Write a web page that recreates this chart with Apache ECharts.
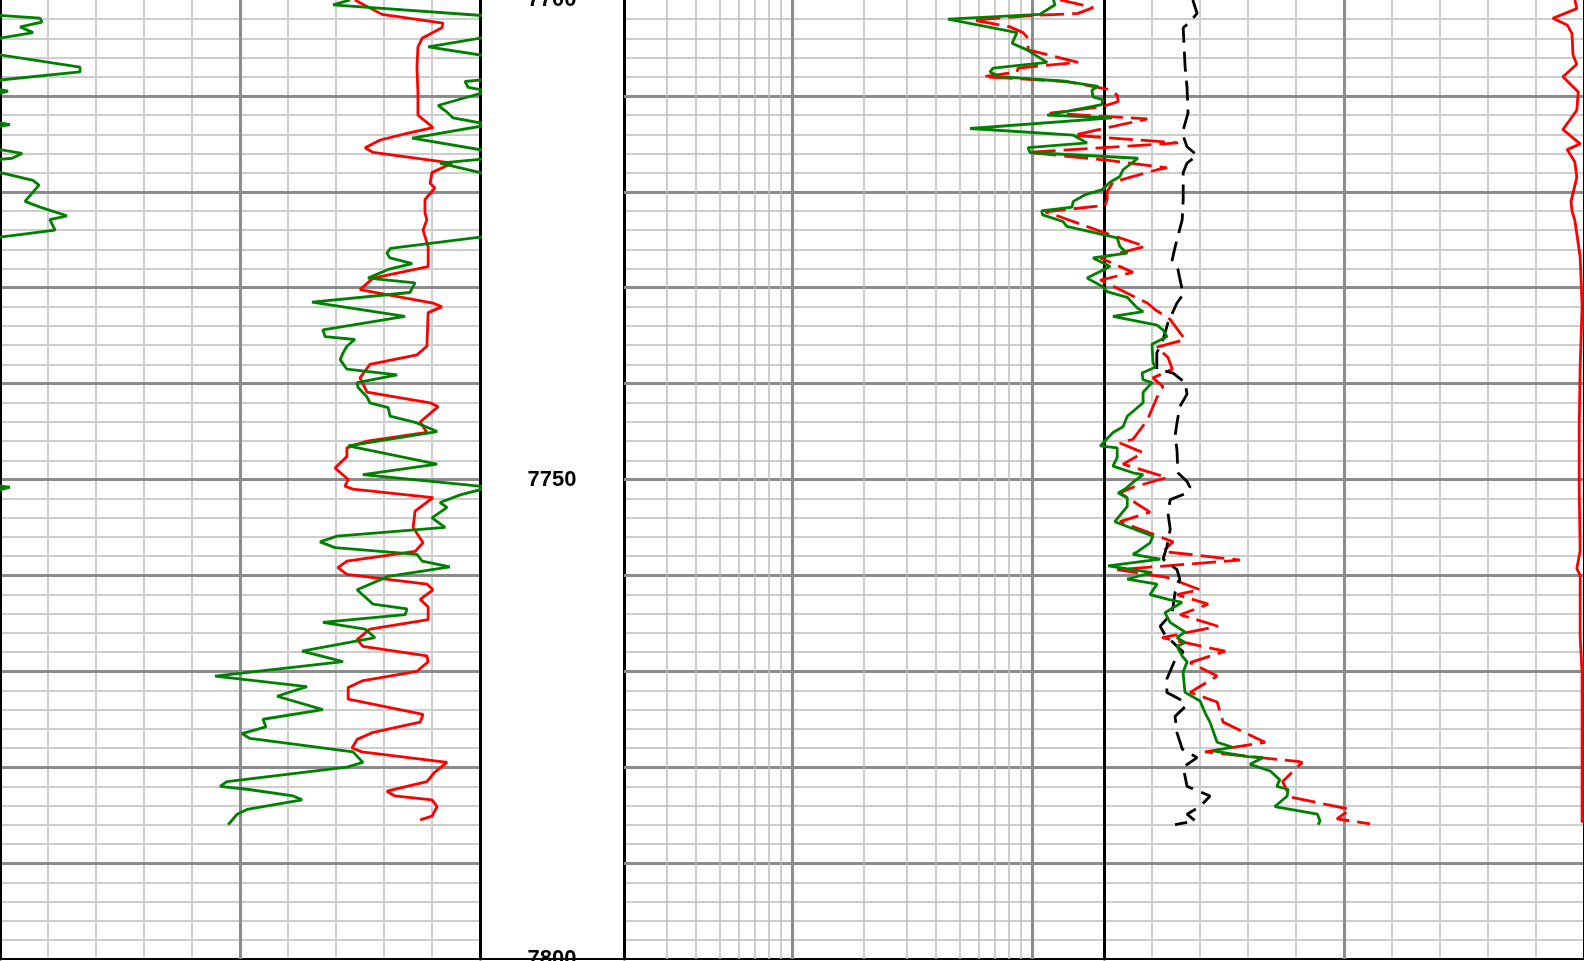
<!DOCTYPE html>
<html><head><meta charset="utf-8">
<script src="https://cdn.jsdelivr.net/npm/echarts@6/dist/echarts.min.js"></script>
<style>html,body{margin:0;padding:0;background:#fff;overflow:hidden}#c{width:1584px;height:961px}</style>
</head><body><div id="c"></div>
<script>
// ---- depth range ----
const depthTop = 7700, depthBottom = 7800;

// ---- Track 1: gamma ray (green, API 0-150, wraps past 150) ----
const grDepth = [
 7700.0,7700.5,7701.9,7702.3,7702.8,7703.4,7704.9,7707.0,7707.5,7708.5,
 7709.1,7709.5,7711.0,7711.7,7712.3,7713.0,7714.4,7716.0,7716.5,7717.0,
 7718.8,7719.3,7721.0,7721.6,7722.5,7722.9,7724.0,7725.9,7726.4,7726.9,
 7727.5,7728.1,7729.0,7729.5,7730.5,7731.5,7733.0,7734.4,7735.1,7735.4,
 7736.1,7736.8,7737.5,7738.5,7739.1,7739.9,7740.4,7741.4,7742.0,7742.5,
 7743.4,7744.1,7745.0,7746.5,7748.4,7749.5,7750.8,7751.6,7752.4,7752.9,
 7754.0,7755.0,7755.9,7756.5,7757.1,7757.8,7758.5,7759.1,7760.1,7761.5,
 7763.0,7763.5,7764.1,7764.9,7765.6,7766.5,7767.9,7769.0,7770.5,7771.6,
 7772.6,7774.0,7775.0,7775.8,7776.5,7777.0,7778.4,7779.5,7780.0,7781.5,
 7782.0,7782.3,7783.0,7783.4,7784.4,7784.9,7786.0];
const grValue = [
 109.4,104.1,162.5,163.1,156.3,160.3,133.8,175.0,175.0,145.3,
 146.3,152.5,136.9,139.7,141.6,153.1,128.8,156.9,153.8,137.5,
 160.3,162.2,157.8,162.5,170.9,165.6,167.2,122.0,120.9,121.9,
 128.8,121.3,115.0,129.7,128.1,97.5,126.6,100.9,101.6,110.9,
 108.4,107.2,106.3,108.4,124.1,111.6,111.9,114.7,115.6,121.3,
 121.9,130.3,136.6,108.8,136.6,113.4,153.1,143.8,137.5,139.7,
 135.0,139.1,105.3,100.0,104.7,130.3,131.9,140.6,121.3,111.6,
 116.6,127.2,126.6,100.9,114.1,117.2,94.4,107.2,67.2,95.9,
 86.6,100.9,82.2,83.1,75.6,78.1,110.3,113.4,108.4,70.9,
 68.8,77.2,91.6,94.4,77.2,74.1,71.3];

// ---- Track 1: red curve ----
const t1RedDepth = [
 7700.0,7701.5,7702.4,7702.9,7704.0,7704.9,7707.0,7709.7,7712.0,7713.3,
 7713.9,7714.6,7715.4,7715.9,7717.0,7718.0,7719.1,7719.6,7720.8,7722.2,
 7722.9,7724.0,7725.7,7727.8,7729.0,7730.2,7731.6,7732.0,7732.6,7736.1,
 7737.0,7738.0,7739.4,7740.9,7742.0,7742.4,7744.0,7745.1,7746.0,7746.7,
 7747.6,7748.8,7750.0,7750.7,7751.0,7751.9,7753.3,7755.0,7756.6,7757.5,
 7758.5,7759.2,7759.9,7760.9,7761.5,7762.5,7763.3,7764.6,7765.6,7766.7,
 7767.4,7768.4,7769.0,7770.0,7771.0,7771.7,7772.9,7774.5,7775.3,7776.4,
 7777.1,7778.0,7778.4,7779.5,7780.5,7781.5,7782.5,7783.0,7783.4,7784.1,
 7785.1,7785.5];
const t1RedValue = [
 110.9,119.4,138.4,138.1,131.9,130.6,130.3,130.6,130.6,135.3,
 127.2,118.8,114.1,116.6,141.3,135.0,134.4,135.9,132.8,132.8,
 133.4,132.2,133.8,133.8,116.6,112.5,135.3,138.1,133.8,133.4,
 130.3,115.6,112.5,114.7,134.4,136.9,131.3,133.4,114.7,108.4,
 108.4,104.7,108.8,107.8,110.3,135.3,129.7,129.1,132.2,129.7,
 108.4,105.6,108.4,133.4,135.3,131.3,133.8,133.8,115.6,111.6,
 113.4,133.4,133.8,130.3,113.1,108.8,108.8,132.2,131.3,116.3,
 111.6,110.0,113.1,139.7,135.9,133.4,120.9,123.4,135.0,136.6,
 135.0,131.3];

// ---- Resistivity track (log 0.2 - 2000): green solid ----
const resGreenDepth = [
 7700.0,7700.5,7701.5,7702.0,7703.4,7704.5,7705.2,7706.5,7707.1,7707.5,
 7708.0,7708.5,7709.0,7709.4,7710.1,7710.4,7710.9,7712.0,7712.3,7713.4,
 7714.1,7714.9,7715.4,7715.9,7716.5,7717.7,7718.4,7719.0,7719.8,7720.3,
 7721.0,7721.6,7722.0,7722.4,7723.1,7723.6,7724.8,7725.7,7726.4,7726.9,
 7727.8,7729.0,7729.9,7730.4,7731.0,7732.1,7732.5,7733.0,7733.9,7734.4,
 7735.1,7735.9,7737.8,7738.3,7738.9,7739.6,7739.9,7740.9,7742.0,7743.4,
 7744.5,7745.1,7746.5,7746.7,7747.7,7748.6,7749.3,7749.5,7750.3,7751.0,
 7751.4,7751.9,7752.8,7754.4,7754.9,7755.9,7756.6,7757.5,7757.8,7758.3,
 7759.0,7759.7,7760.4,7760.9,7762.0,7762.5,7762.8,7763.9,7764.9,7765.9,
 7766.5,7767.0,7767.4,7768.4,7769.0,7770.1,7772.2,7773.1,7774.3,7775.3,
 7777.4,7777.9,7778.3,7778.9,7779.0,7779.7,7780.4,7781.3,7782.0,7782.3,
 7783.0,7784.1,7784.9,7785.6,7786.0];
const resGreenValue = [
 12.3,12.5,10.8,4.48,8.68,8.28,9.55,11.6,6.90,6.70,
 7.38,14.0,18.9,17.8,18.0,19.8,19.6,11.6,21.6,5.53,
 14.9,17.0,9.65,9.84,27.7,24.0,23.3,21.2,19.6,16.7,
 14.9,14.7,11.0,11.1,13.5,14.0,22.7,23.3,25.0,18.0,
 21.2,17.0,19.8,20.6,25.0,27.5,29.1,21.8,33.3,35.2,
 36.6,31.7,32.0,32.7,28.8,29.1,31.7,29.1,29.1,25.0,
 24.0,21.8,19.3,22.7,22.7,21.8,26.4,29.1,26.4,24.5,
 22.9,25.0,25.0,22.2,25.0,32.0,31.1,27.7,26.4,34.3,
 20.8,31.7,25.0,33.3,31.1,37.0,42.3,35.9,37.7,43.5,
 40.3,43.5,40.3,42.3,44.4,42.7,43.5,50.3,52.7,55.3,
 59.2,68.4,57.0,79.6,92.0,81.2,98.5,108,105,117,
 116,103,155,159,156];

// ---- Resistivity track: red dashed ----
const resRedDepth = [
 7700.0,7700.5,7700.8,7701.4,7701.6,7702.1,7702.4,7702.8,7703.4,7704.0,
 7705.2,7706.5,7707.1,7707.5,7708.0,7708.5,7709.3,7709.9,7710.6,7711.1,
 7711.8,7712.4,7714.1,7714.9,7715.9,7716.7,7717.5,7717.7,7719.0,7720.0,
 7720.8,7721.4,7722.1,7722.6,7724.0,7725.7,7726.9,7728.4,7729.2,7731.6,
 7732.3,7733.3,7735.4,7736.2,7737.3,7738.5,7739.4,7740.3,7741.4,7743.8,
 7745.8,7746.2,7747.2,7748.4,7749.8,7750.8,7751.4,7753.4,7754.4,7756.5,
 7757.5,7758.4,7759.4,7760.2,7761.5,7762.0,7763.0,7764.1,7765.3,7766.5,
 7767.9,7769.1,7770.5,7772.2,7773.2,7775.3,7777.4,7778.4,7779.4,7779.5,
 7781.5,7783.1,7784.4,7785.4,7785.9];
const resRedValue = [
 13.1,16.2,18.0,15.6,10.3,5.64,6.70,8.11,9.20,9.65,
 9.65,15.6,8.77,8.68,6.27,14.0,20.6,22.7,22.9,19.8,
 11.9,30.3,14.9,40.7,9.65,20.6,36.6,33.3,21.8,20.6,
 20.6,20.2,11.4,13.1,18.7,29.7,19.3,26.4,19.3,30.3,
 32.7,37.7,43.5,33.3,37.0,38.5,32.0,35.2,33.3,30.3,
 26.4,23.3,29.1,24.0,36.6,26.4,23.3,31.1,23.3,38.8,
 35.2,73.8,22.7,36.6,50.3,40.3,54.3,41.5,59.7,34.9,
 63.9,45.7,59.2,45.7,59.2,62.7,93.8,52.7,128,134,
 111,119,212,187,257];

// ---- Linear track (0-100): black dashed ----
const linBlackDepth = [
 7700.0,7701.4,7702.3,7702.9,7707.0,7709.1,7711.8,7713.9,7715.3,7716.2,
 7717.0,7718.0,7720.8,7722.9,7725.8,7727.1,7728.1,7730.7,7731.6,7733.7,
 7735.4,7736.8,7738.5,7738.9,7739.9,7741.1,7742.4,7744.1,7745.5,7746.9,
 7749.3,7750.2,7750.8,7751.4,7752.1,7753.4,7755.2,7757.0,7758.3,7759.4,
 7760.4,7761.8,7763.9,7765.3,7766.2,7768.0,7768.8,7770.8,7772.2,7773.1,
 7773.7,7774.7,7776.4,7778.1,7779.0,7780.0,7782.0,7783.0,7784.1,7784.9,
 7785.6,7786.0];
const linBlackValue = [
 18.5,19.4,17.9,16.5,16.9,17.3,17.5,16.3,17.3,19.4,
 17.3,16.5,16.5,16.3,14.8,14.2,15.4,16.5,15.2,13.3,
 12.3,11.0,11.0,14.4,16.9,17.3,15.8,15.2,14.8,15.2,
 15.4,17.3,17.9,17.3,13.8,13.3,13.8,13.1,12.3,15.2,
 15.8,14.8,14.2,11.7,12.7,16.5,14.8,13.1,13.1,16.5,
 16.9,14.8,15.2,16.3,19.4,16.5,17.3,22.1,20.0,17.3,
 19.0,14.8];

// ---- Linear track: red solid near right edge ----
const linRedDepth = [
 7700.0,7700.9,7701.9,7702.6,7703.5,7705.7,7706.7,7708.0,7709.6,7711.5,
 7713.5,7715.0,7715.6,7716.9,7718.5,7721.0,7722.0,7723.0,7726.8,7731.9,
 7738.3,7744.7,7751.0,7757.4,7759.3,7760.0,7766.4,7770.2,7785.8];
const linRedValue = [
 98.1,98.5,93.5,96.5,97.5,97.7,98.5,95.6,98.8,98.5,
 95.6,99.2,96.5,98.1,98.5,97.3,97.5,98.1,99.2,99.6,
 99.2,99.0,99.0,99.2,98.5,99.2,99.2,99.6,99.6];

// ---- grid / tick values ----
const grScale = [0, 150];
const logScale = [0.2, 2000];
const linScale = [0, 100];
const logMinorLines = [0.3,0.4,0.5,0.6,0.7,0.8,0.9,2,3,4,5,6,7,8,9];
const logMajorLines = [1, 10];

const pairs = (d, v) => d.map((y, i) => [v[i], y]);
// backup (wrap-around) presentation of GR readings above full scale
const grWrapped = grValue.map(v => v - grScale[1]);

const C_MINOR_V = '#cfcfcf', C_MINOR_H = '#bcbcbc', C_MAJOR = '#8c8c8c';
const W = 480, DW = 144, H = 959, LW = 2.8;

function yAx(grid, pos, extra) {
  return Object.assign({
    type: 'value', gridIndex: grid, position: pos, inverse: true,
    min: depthTop, max: depthBottom, interval: 2,
    axisLine: {show: false}, axisTick: {show: false}, axisLabel: {show: false},
    splitLine: {show: false}
  }, extra || {});
}
function xAx(grid, pos, extra) {
  return Object.assign({
    type: 'value', gridIndex: grid, position: pos,
    axisLine: {show: false}, axisTick: {show: false}, axisLabel: {show: false},
    splitLine: {show: false}
  }, extra || {});
}
const bottomLine = {show: true, onZero: false, lineStyle: {color: '#000', width: 2}};
const minorH = {show: true, showMinLine: false, showMaxLine: false, lineStyle: {color: C_MINOR_H, width: 1.5}};
const majorH = {show: true, showMinLine: false, showMaxLine: false, lineStyle: {color: C_MAJOR, width: 3}};

const option = {
  animation: false,
  backgroundColor: '#fff',
  grid: [
    {left: 0, top: 0, width: W, height: H, outerBoundsMode: 'none'},
    {left: W, top: 0, width: DW, height: H, outerBoundsMode: 'none'},
    {left: W + DW, top: 0, width: 2 * W, height: H, outerBoundsMode: 'none'},
    {left: 2 * W + DW, top: 0, width: W, height: H, outerBoundsMode: 'none'}
  ],
  xAxis: [
    xAx(0, 'bottom', {min: grScale[0], max: grScale[1], interval: 15, axisLine: bottomLine,
      splitLine: {show: true, showMinLine: false, showMaxLine: false, lineStyle: {color: C_MINOR_V, width: 2}}}),
    xAx(0, 'top', {min: grScale[0], max: grScale[1], interval: 75, z: 1,
      splitLine: {show: true, showMinLine: false, showMaxLine: false, lineStyle: {color: C_MAJOR, width: 3}}}),
    xAx(1, 'bottom', {min: 0, max: 1, axisLine: bottomLine}),
    xAx(2, 'bottom', {type: 'log', logBase: 10, min: logScale[0], max: logScale[1], axisLine: bottomLine}),
    xAx(3, 'bottom', {min: linScale[0], max: linScale[1], interval: 10, axisLine: bottomLine,
      splitLine: {show: true, showMinLine: false, showMaxLine: false, lineStyle: {color: C_MINOR_V, width: 2}}}),
    xAx(3, 'top', {min: linScale[0], max: linScale[1], interval: 50, z: 1,
      splitLine: {show: true, showMinLine: false, showMaxLine: false, lineStyle: {color: C_MAJOR, width: 3}}})
  ],
  yAxis: [
    yAx(0, 'left', {splitLine: minorH}),
    yAx(0, 'right', {interval: 10, z: 1, splitLine: majorH,
      axisLine: {show: true, lineStyle: {color: '#000', width: 3}}}),
    yAx(1, 'left', {interval: 50, z: 3,
      axisLine: {show: true, lineStyle: {color: '#000', width: 3}},
      axisLabel: {show: true, inside: false, margin: -DW / 2, align: 'center', verticalAlign: 'middle',
        showMinLabel: true, showMaxLabel: true, color: '#000', fontWeight: 'bold', fontSize: 22,
        fontFamily: "'Liberation Sans',Arial,sans-serif",
        formatter: v => String(v)}}),
    yAx(1, 'right', {axisLine: {show: true, lineStyle: {color: '#000', width: 3}}}),
    yAx(2, 'left', {splitLine: minorH}),
    yAx(2, 'right', {interval: 10, z: 1, splitLine: majorH,
      axisLine: {show: true, lineStyle: {color: '#000', width: 2}}}),
    yAx(3, 'left', {z: 3, axisLine: {show: true, lineStyle: {color: '#000', width: 3}}})
  ],
  series: [
    {name: 'T1 red', type: 'line', xAxisIndex: 0, yAxisIndex: 0, data: pairs(t1RedDepth, t1RedValue),
      symbol: 'none', z: 3, lineStyle: {color: '#ff0000', width: LW}},
    {name: 'GR', type: 'line', xAxisIndex: 0, yAxisIndex: 0, data: pairs(grDepth, grValue),
      symbol: 'none', clip: true, z: 4, lineStyle: {color: '#008000', width: LW}},
    {name: 'GR backup', type: 'line', xAxisIndex: 0, yAxisIndex: 0, data: pairs(grDepth, grWrapped),
      symbol: 'none', clip: true, z: 4, lineStyle: {color: '#008000', width: LW}},
    {name: 'Res red', type: 'line', xAxisIndex: 3, yAxisIndex: 4, data: pairs(resRedDepth, resRedValue),
      symbol: 'none', z: 3, lineStyle: {color: '#ff0000', width: LW, type: [24, 8]}},
    {name: 'Res green', type: 'line', xAxisIndex: 3, yAxisIndex: 4, data: pairs(resGreenDepth, resGreenValue),
      symbol: 'none', z: 4, lineStyle: {color: '#008000', width: LW},
      markLine: {silent: true, z: 1, animation: false, symbol: ['none', 'none'], label: {show: false},
        emphasis: {disabled: true},
        data: logMinorLines.map(v => ({xAxis: v, lineStyle: {color: C_MINOR_H, width: 1.5, type: 'solid'}}))
          .concat(logMajorLines.map(v => ({xAxis: v, lineStyle: {color: C_MAJOR, width: 3, type: 'solid'}})))}},
    {name: 'Lin black', type: 'line', xAxisIndex: 4, yAxisIndex: 6, data: pairs(linBlackDepth, linBlackValue),
      symbol: 'none', z: 3, lineStyle: {color: '#000', width: LW, type: [20, 9]}},
    {name: 'Lin red', type: 'line', xAxisIndex: 4, yAxisIndex: 6, data: pairs(linRedDepth, linRedValue),
      symbol: 'none', z: 3, lineStyle: {color: '#ff0000', width: LW}}
  ]
};
const chart = echarts.init(document.getElementById('c'));
chart.setOption(option);
</script></body></html>
